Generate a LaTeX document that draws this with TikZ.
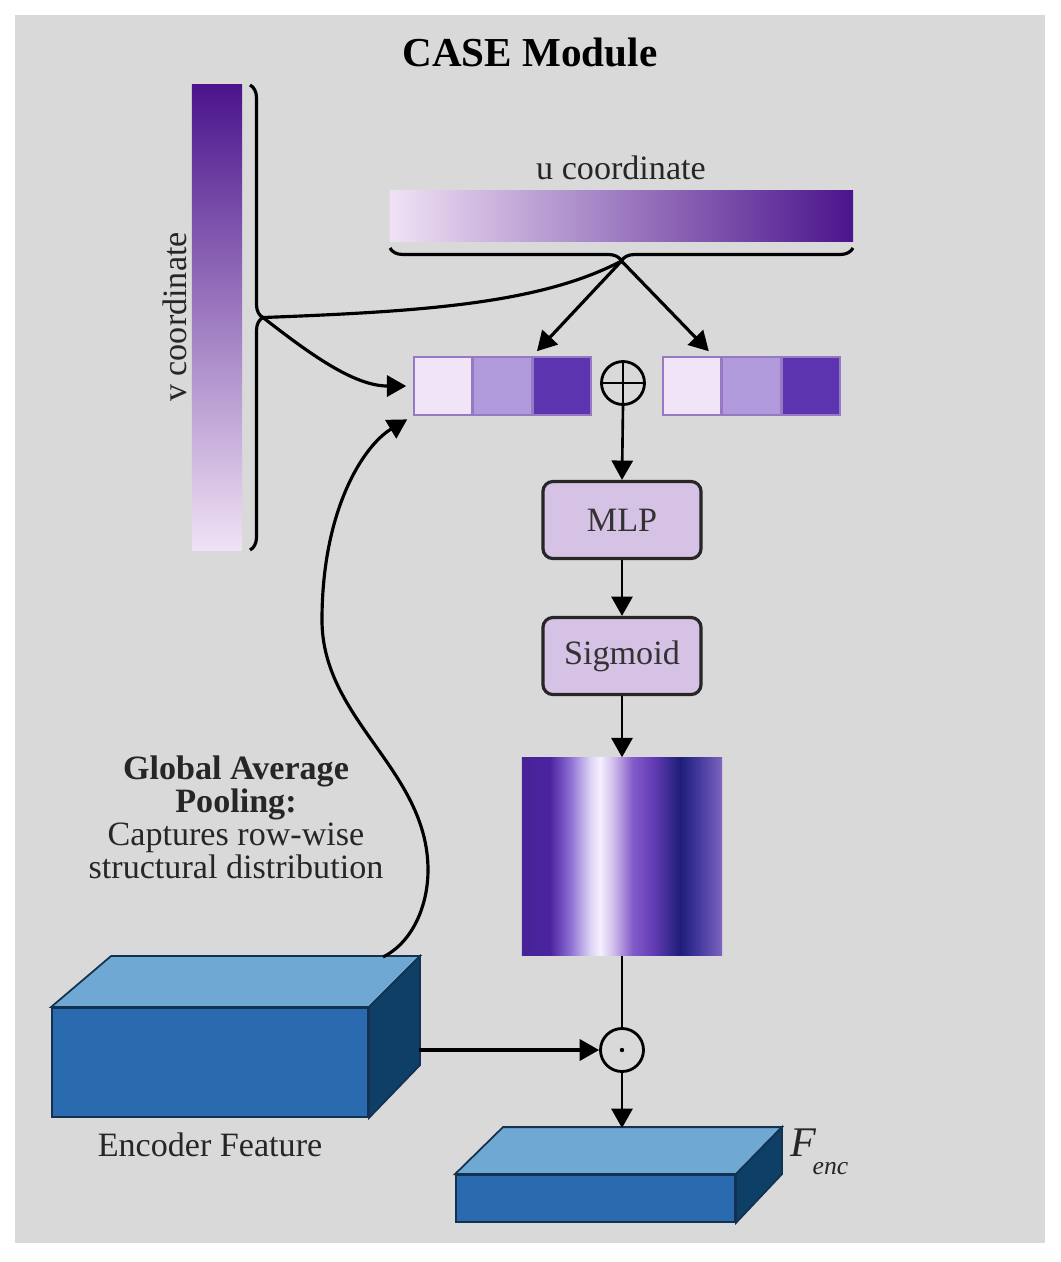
\documentclass[tikz,border=0pt]{standalone}
\usepackage{fontspec}
\setmainfont{Liberation Serif}
\usetikzlibrary{arrows.meta,decorations.pathreplacing,positioning}

\definecolor{bggray}{RGB}{217,217,217}
\definecolor{vdark}{RGB}{75,20,140}
\definecolor{vlight}{RGB}{240,226,245}
\definecolor{celllight}{RGB}{240,228,246}
\definecolor{cellmid}{RGB}{176,154,220}
\definecolor{celldark}{RGB}{92,52,176}
\definecolor{cellborder}{RGB}{150,120,195}
\definecolor{boxfill}{RGB}{214,194,228}
\definecolor{encfront}{RGB}{42,106,174}
\definecolor{enctop}{RGB}{111,168,210}
\definecolor{encside}{RGB}{14,63,102}
\definecolor{encedge}{RGB}{20,50,80}
% colours of the sigmoid map
\definecolor{sga}{RGB}{70,35,150}
\definecolor{sgb}{RGB}{75,35,160}
\definecolor{sgc}{RGB}{140,110,210}
\definecolor{sgd}{RGB}{220,210,245}
\definecolor{sge}{RGB}{245,240,255}
\definecolor{sgf}{RGB}{210,190,235}
\definecolor{sgg}{RGB}{130,90,200}
\definecolor{sgh}{RGB}{100,60,180}
\definecolor{sgi}{RGB}{30,30,120}
\definecolor{sgj}{RGB}{70,60,160}
\definecolor{sgk}{RGB}{125,100,190}
\pgfdeclarehorizontalshading{sigshade}{100bp}{
  color(0bp)=(sga); color(25bp)=(sga); color(32bp)=(sgb); color(37bp)=(sgc);
  color(42bp)=(sgd); color(44.5bp)=(sge); color(47.75bp)=(sgf); color(52.75bp)=(sgg);
  color(57.75bp)=(sgh); color(64.5bp)=(sgi); color(69.5bp)=(sgj); color(75bp)=(sgk);
  color(100bp)=(sgk)}

\begin{document}
\begin{tikzpicture}[x=0.01cm, y=-0.01cm,
    lbl/.style={font=\fontsize{9.7}{11.6}\selectfont, text=black!85, inner sep=0},
    cell/.style={draw=cellborder, line width=0.4pt, minimum size=0.58cm, inner sep=0},
    proc/.style={draw=black!85, line width=0.9pt, fill=boxfill, rounded corners=0.1cm,
      minimum width=1.58cm, minimum height=0.77cm, font=\fontsize{9.7}{11.6}\selectfont, text=black!80},
    op/.style={draw, circle, line width=0.8pt, minimum size=0.43cm, inner sep=0},
    arr/.style={-{Triangle[length=5.5pt,width=6pt]}, line width=0.75pt},
    link/.style={line width=0.9pt},
    brc/.style={decorate, decoration={brace, amplitude=0.13cm}, line width=0.9pt},
    face/.style={draw=encedge, line width=0.5pt}]
    \useasboundingbox (0,0) rectangle (1061,1262);
    \fill[bggray] (15,15) rectangle (1045,1243);

    \node[font=\bfseries\fontsize{11.7}{14}\selectfont] (title) at (530,52) {CASE Module};

    % coordinate maps
    \node[minimum width=0.5cm, minimum height=4.65cm, inner sep=0, top color=vdark, bottom color=vlight] (vbar) at (217,317.5) {};
    \node[lbl, rotate=90] (vlabel) at (175,317) {v coordinate};
    \draw[brc] (250,85) -- (250,550);
    \coordinate (vtip) at (263,317.5);

    \node[minimum width=4.63cm, minimum height=0.51cm, inner sep=0, left color=vlight, right color=vdark] (ubar) at (621.5,215.5) {};
    \node[lbl] (ulabel) at (621,168) {u coordinate};
    \draw[brc] (853,248) -- (390,248);
    \coordinate (utip) at (621.5,261);

    % pooled vectors
    \node[cell, fill=celllight] (l1) at (443,386) {};
    \node[cell, fill=cellmid, right=0pt of l1] (l2) {};
    \node[cell, fill=celldark, right=0pt of l2] (l3) {};
    \node[cell, fill=celllight] (r1) at (692,386) {};
    \node[cell, fill=cellmid, right=0pt of r1] (r2) {};
    \node[cell, fill=celldark, right=0pt of r2] (r3) {};

    \node[op] (oplus) at (623,383) {};
    \draw[line width=0.8pt] (oplus.north) -- (oplus.south) (oplus.west) -- (oplus.east);

    \node[proc] (mlp) at (622,520) {MLP};
    \node[proc] (sig) at (622,656) {Sigmoid};
    \node[shade, shading=sigshade, minimum width=2cm, minimum height=1.97cm, inner sep=0] (att) at (622,856.5) {};

    \node[op] (odot) at (622,1050) {};
    \fill (odot.center) circle (2.2);

    % encoder feature
    \node[face, fill=encfront, minimum width=3.16cm, minimum height=1.09cm, inner sep=0] (enc) at (210,1062.5) {};
    \draw[face, fill=enctop] (enc.north west) -- (enc.north east) -- ++(51,-51) -- ++(-309,0) -- cycle;
    \draw[face, fill=encside] (enc.north east) -- ++(51,-51) -- ++(0,109) -- (enc.south east) -- cycle;
    \node[lbl] (enclabel) at (210,1145) {Encoder Feature};
    \coordinate (gapstart) at (383,957);
    \coordinate (encport) at (419,1050);

    % output feature
    \node[face, fill=encfront, minimum width=2.79cm, minimum height=0.47cm, inner sep=0] (fenc) at (595.5,1198.5) {};
    \draw[face, fill=enctop] (fenc.north west) -- (fenc.north east) -- ++(46,-47) -- ++(-279,0) -- cycle;
    \draw[face, fill=encside] (fenc.north east) -- ++(46,-47) -- ++(0,47) -- (fenc.south east) -- cycle;
    \coordinate (fencback) at (622,1128);
    \node[font=\fontsize{12}{14}\selectfont, text=black!85, anchor=west, inner sep=0] (fenclabel) at (790,1152)
      {\textit{F}\kern-1.2pt\raisebox{-0.9ex}{\fontsize{7.3}{8}\selectfont\textit{enc}}};

    \node[lbl, align=center, font=\fontsize{9.7}{9.4}\selectfont] (gap) at (236,817)
      {\textbf{Global Average}\\\textbf{Pooling:}\\Captures row-wise\\structural distribution};

    % connectors
    \draw[link] (vtip) .. controls +(158,-6) and +(-82,43) .. (utip);
    \draw[arr, link, shorten >=2pt] (vtip) .. controls +(45,35) and +(-60,0) .. (l1.west);
    \draw[arr, link, shorten >=2pt] (utip) -- (l3.north west);
    \draw[arr, link, shorten >=2pt] (utip) -- ([xshift=-0.08cm]r1.north east);
    \draw[arr, link, shorten >=2pt] (gapstart) .. controls +(30,-15) and +(0,35) .. (428,870)
      .. controls +(0,-100) and +(0,100) .. (322,620)
      .. controls +(0,-110) and +(-50,30) .. (l1.south west);
    \draw[arr] (oplus.south) -- (mlp.north);
    \draw[arr] (mlp.south) -- (sig.north);
    \draw[arr] (sig.south) -- (att.north);
    \draw[line width=0.75pt] (att.south) -- (odot.north);
    \draw[arr, link] (encport) -- (odot.west);
    \draw[arr] (odot.south) -- (fencback);
\end{tikzpicture}
\end{document}
